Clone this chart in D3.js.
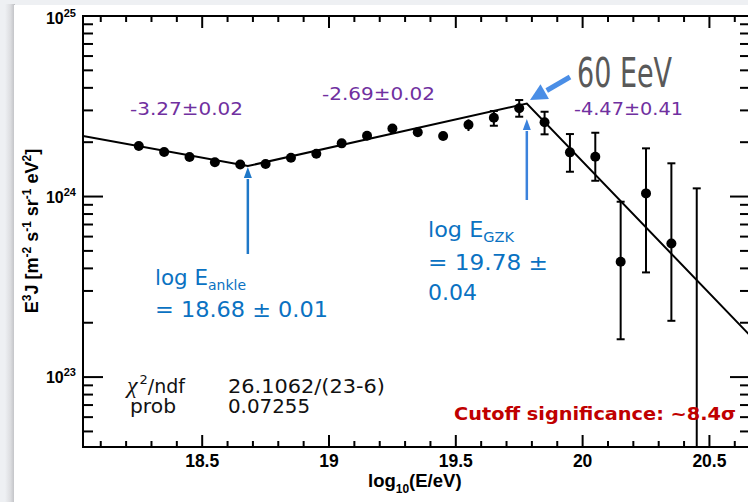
<!DOCTYPE html>
<html><head><meta charset="utf-8">
<script src="https://cdn.jsdelivr.net/npm/d3@7"></script>
<style>html,body{margin:0;padding:0;background:#eef0f3;overflow:hidden}svg{display:block}</style>
</head><body>
<svg id="c" width="748" height="502"></svg>
<script>
// ---- data (flux in units of 1e24 eV^2 m^-2 s^-1 sr^-1) ----
const logE = [18.25,18.35,18.45,18.55,18.65,18.75,18.85,18.95,19.05,19.15,19.25,19.35,19.45,19.55,19.65,19.75,19.85,19.95,20.05,20.15,20.25,20.35,20.45];
const flux = [1.905,1.764,1.655,1.547,1.504,1.514,1.641,1.727,1.971,2.169,2.381,2.271,2.163,2.499,2.729,3.081,2.577,1.757,1.662,0.435,1.041,0.550,0.030];
const errUp = [0.015,0.015,0.015,0.015,0.015,0.02,0.02,0.025,0.03,0.04,0.05,0.06,0.08,0.178,0.247,0.343,0.372,0.462,0.594,0.501,0.808,0.978,1.080];
const errDown = [0.015,0.015,0.015,0.015,0.015,0.02,0.02,0.025,0.03,0.04,0.05,0.06,0.08,0.193,0.262,0.313,0.366,0.385,0.439,0.273,0.661,0.345,0.029];
const fitLogE = [18.03, 18.68, 19.78, 20.66];
const fitFlux = [2.164, 1.476, 3.275, 0.170];
const xMajor = [18.5, 19, 19.5, 20, 20.5];
const xMajorLabels = ["18.5", "19", "19.5", "20", "20.5"];
const yDecades = [23, 24, 25];
const slopeLabels = ["-3.27\u00B10.02", "-2.69\u00B10.02", "-4.47\u00B10.41"];
const breakLogE = [18.68, 19.78];
const UNIT = 1e24;

const svg = d3.select("#c");
const W = 748, H = 502;
// slide background + white panel
const defs = svg.append("defs");
const g1 = defs.append("linearGradient").attr("id","sh").attr("x1","0").attr("x2","1");
g1.append("stop").attr("offset","0").attr("stop-color","#eef0f3");
g1.append("stop").attr("offset","0.55").attr("stop-color","#dcdde0");
g1.append("stop").attr("offset","1").attr("stop-color","#bdbec2");
svg.append("rect").attr("width",W).attr("height",H).attr("fill","#eef0f3");
svg.append("rect").attr("x",5).attr("y",4).attr("width",10).attr("height",H).attr("fill","url(#sh)");
svg.append("rect").attr("x",14).attr("y",5).attr("width",W-14).attr("height",H-5).attr("fill","#ffffff");

const L = 83, R = 750, T = 16, B = 447;
const x = d3.scaleLinear().domain([18.03, 20.66]).range([L, R]);
const y = d3.scaleLog().domain([4.1e22, 1e25]).range([B, T]);

defs.append("clipPath").attr("id","clip").append("rect").attr("x",L).attr("y",T).attr("width",R-L).attr("height",B-T);

// axes ticks
const xMinor = d3.range(181, 207).map(v => v/10).filter(v => !xMajor.some(m => Math.abs(m-v) < 1e-6));
const ax = svg.append("g").attr("stroke","#000").attr("stroke-width",2);
function xt(vals, len){
  vals.forEach(v => {
    ax.append("line").attr("x1",x(v)).attr("x2",x(v)).attr("y1",B).attr("y2",B-len);
    ax.append("line").attr("x1",x(v)).attr("x2",x(v)).attr("y1",T).attr("y2",T+len);
  });
}
xt(xMajor, 12); xt(xMinor, 6);
const yMinor = [];
yDecades.forEach(d => { for (let k=2;k<=9;k++){ const v = k*Math.pow(10,d-1); if (v>=4.1e22 && v<1e25) yMinor.push(v);} });
function yt(vals, len){
  vals.forEach(v => {
    ax.append("line").attr("x1",L).attr("x2",L+len).attr("y1",y(v)).attr("y2",y(v));
    ax.append("line").attr("x1",R).attr("x2",R-len).attr("y1",y(v)).attr("y2",y(v));
  });
}
yt(yDecades.map(d => Math.pow(10,d)), 20); yt(yMinor, 10);
svg.append("rect").attr("x",L).attr("y",T).attr("width",R-L).attr("height",B-T)
  .attr("fill","none").attr("stroke","#000").attr("stroke-width",2);

// tick labels
const axFont = "'Liberation Sans', Arial, Helvetica, sans-serif";
xMajor.forEach((v,i) => {
  svg.append("text").attr("x",x(v)).attr("y",467).attr("text-anchor","middle")
    .attr("font-family",axFont).attr("font-weight","bold").attr("font-size",17.5).text(xMajorLabels[i]);
});
yDecades.forEach(d => {
  const t = svg.append("text").attr("x",76).attr("y",y(Math.pow(10,d)) + (d===25?8:6)).attr("text-anchor","end")
    .attr("font-family",axFont).attr("font-weight","bold").attr("font-size",16);
  t.append("tspan").text("10");
  t.append("tspan").attr("font-size",11).attr("dy",-7).text(String(d));
});
// x title
const xtT = svg.append("text").attr("x",368).attr("y",486.5).attr("font-family",axFont).attr("font-weight","bold").attr("font-size",18.5);
xtT.append("tspan").text("log");
xtT.append("tspan").attr("font-size",12).attr("dy",6).text("10");
xtT.append("tspan").attr("dy",-6).text("(E/eV)");
// y title
const ytT = svg.append("text").attr("transform","translate(38,231) rotate(-90)").attr("text-anchor","middle")
  .attr("font-family",axFont).attr("font-weight","bold").attr("font-size",18);
[["E",0],["3",1],["J [m",0],["-2",1],[" s",0],["-1",1],[" sr",0],["-1",1],[" eV",0],["2",1],["]",0]].forEach((p,i,arr) => {
  const prevSup = i>0 && arr[i-1][1];
  const s = ytT.append("tspan").text(p[0]);
  if (p[1]) s.attr("font-size",12).attr("dy", prevSup ? 0 : -7);
  else if (prevSup) s.attr("dy",7);
});

// plot content (clipped)
const pg = svg.append("g").attr("clip-path","url(#clip)");
const fitData = fitLogE.map((e,i) => [e, fitFlux[i]*UNIT]);
pg.append("path").datum(fitData).attr("fill","none").attr("stroke","#000").attr("stroke-width",2)
  .attr("d", d3.line().x(d => x(d[0])).y(d => y(d[1])));
const R_DOT = 5;
const pts = logE.map((e,i) => ({e, v: flux[i]*UNIT, hi:(flux[i]+errUp[i])*UNIT, lo:Math.max(flux[i]-errDown[i],0.001)*UNIT}));
const eb = pg.append("g").attr("stroke","#000").attr("stroke-width",2);
pts.forEach(p => {
  const cy = y(p.v), yh = y(p.hi), yl = y(p.lo);
  eb.append("line").attr("x1",x(p.e)).attr("x2",x(p.e)).attr("y1",yh).attr("y2",yl);
  if (cy - yh > R_DOT + 1.5) eb.append("line").attr("x1",x(p.e)-4).attr("x2",x(p.e)+4).attr("y1",yh).attr("y2",yh);
  if (yl - cy > R_DOT + 1.5) eb.append("line").attr("x1",x(p.e)-4).attr("x2",x(p.e)+4).attr("y1",yl).attr("y2",yl);
});
pg.selectAll("circle.pt").data(pts).join("circle").attr("class","pt")
  .attr("cx",d => x(d.e)).attr("cy",d => y(d.v)).attr("r",R_DOT).attr("fill","#000");

// slope labels
const gFont = "'DejaVu Sans', 'Noto Sans', sans-serif";
const slopePos = [[130,115,113],[322,100,113],[574,115,109]];
slopeLabels.forEach((s,i) => {
  svg.append("text").attr("x",slopePos[i][0]).attr("y",slopePos[i][1]).attr("textLength",slopePos[i][2])
    .attr("lengthAdjust","spacingAndGlyphs").attr("font-family",gFont).attr("font-size",18)
    .attr("fill","#7030A0").text(s);
});

// arrows
function arrowHead(g, x0, y0, x1, y1, len, wid, color){
  const a = Math.atan2(y1-y0, x1-x0);
  const bx = x1 - len*Math.cos(a), by = y1 - len*Math.sin(a);
  const px = -Math.sin(a)*wid/2, py = Math.cos(a)*wid/2;
  g.append("path").attr("d",`M${x1},${y1}L${bx+px},${by+py}L${bx-px},${by-py}Z`).attr("fill",color);
  return [bx, by];
}
const aG = svg.append("g");
// ankle
{
  const xa = x(breakLogE[0]);
  const [bx,by] = arrowHead(aG, xa, 254, xa, 167, 11, 8, "#1f78c8");
  aG.append("line").attr("x1",xa).attr("x2",bx).attr("y1",254).attr("y2",by+1).attr("stroke","#1f78c8").attr("stroke-width",2.5);
}
// GZK
{
  const xg = x(breakLogE[1]);
  const [bx,by] = arrowHead(aG, xg, 200, xg, 119, 11, 8, "#3b82dc");
  aG.append("line").attr("x1",xg).attr("x2",bx).attr("y1",200).attr("y2",by+1).attr("stroke","#3b82dc").attr("stroke-width",2.5);
}
// 60 EeV arrow
{
  const [bx,by] = arrowHead(aG, 570, 77, 530, 100, 17, 17, "#4a8ee6");
  aG.append("line").attr("x1",570).attr("x2",bx+2).attr("y1",77).attr("y2",by-1).attr("stroke","#4a8ee6").attr("stroke-width",5);
}
svg.append("text").attr("x",577).attr("y",87).attr("textLength",95).attr("lengthAdjust","spacingAndGlyphs")
  .attr("font-family","'DejaVu Sans Condensed','DejaVu Sans',sans-serif").attr("font-size",40).attr("fill","#595959").text("60 EeV");

// blue annotations
const blue = "#0a72c2";
function blueLine(xp, yp, parts, len){
  const t = svg.append("text").attr("x",xp).attr("y",yp).attr("font-family",gFont).attr("font-size",21.5).attr("fill",blue)
    .attr("textLength",len).attr("lengthAdjust","spacingAndGlyphs");
  parts.forEach(p => {
    const s = t.append("tspan").text(p[0]);
    if (p[1]===1) s.attr("font-size",14).attr("dy",5);
  });
}
blueLine(155, 285, [["log E",0],["ankle",1]], 91);
blueLine(155, 317, [["= 18.68 \u00B1 0.01",0]], 173);
blueLine(428, 237, [["log E",0],["GZK",1]], 86);
blueLine(428, 270, [["= 19.78 \u00B1",0]], 120);
blueLine(428, 300, [["0.04",0]], 49);

// fit statistics
const chi = svg.append("text").attr("x",127).attr("y",393).attr("font-family",gFont).attr("font-size",19).attr("fill","#111");
chi.append("tspan").attr("font-family","'Liberation Serif','DejaVu Serif',serif").attr("font-style","italic").attr("font-size",24).text("\u03C7");
chi.append("tspan").attr("font-size",13).attr("dy",-9).attr("dx",2).text("2");
chi.append("tspan").attr("dy",9).text("/ndf");
svg.append("text").attr("x",130).attr("y",413).attr("font-family",gFont).attr("font-size",19).attr("fill","#111")
  .attr("textLength",46).attr("lengthAdjust","spacingAndGlyphs").text("prob");
svg.append("text").attr("x",228).attr("y",393).attr("font-family",gFont).attr("font-size",19).attr("fill","#111")
  .attr("textLength",157).attr("lengthAdjust","spacingAndGlyphs").text("26.1062/(23-6)");
svg.append("text").attr("x",228).attr("y",413).attr("font-family",gFont).attr("font-size",19).attr("fill","#111")
  .attr("textLength",82).attr("lengthAdjust","spacingAndGlyphs").text("0.07255");

// cutoff significance
svg.append("text").attr("x",454).attr("y",420).attr("font-family",gFont).attr("font-weight","bold").attr("font-size",17)
  .attr("fill","#C00000").attr("textLength",282).attr("lengthAdjust","spacingAndGlyphs").text("Cutoff significance: ~8.4\u03C3");
</script>
</body></html>
